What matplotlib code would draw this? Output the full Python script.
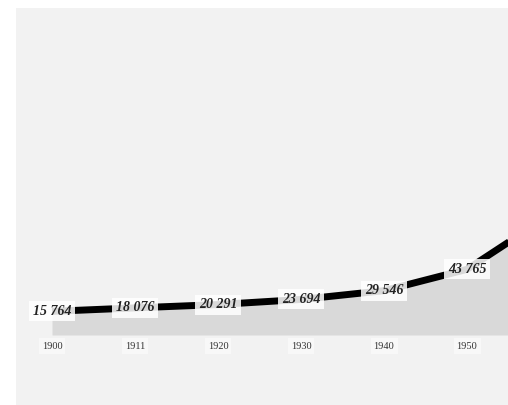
import numpy as np
import matplotlib.pyplot as plt

years = ['1900', '1911', '1920', '1930', '1940', '1950', '1960']
population = [15764, 18076, 20291, 23694, 29546, 43765, 80000]

x = np.arange(len(years))

fig = plt.figure(figsize=(5.08, 4.05), dpi=100, facecolor='white')
ax = fig.add_axes([16 / 508, 0, 492 / 508, 397 / 405])
ax.set_facecolor('#f2f2f2')
for s in ax.spines.values():
    s.set_visible(False)
ax.set_xticks([])
ax.set_yticks([])

ax.fill_between(x, 0, population, color='#d9d9d9', lw=0, zorder=1)
ax.plot(x, population, color='black', lw=5, solid_capstyle='butt', zorder=2)

for xi, yr, v in zip(x, years, population):
    if xi > 5:
        continue
    ax.annotate(f'{v:,}'.replace(',', ' '), (xi, v), ha='center', va='center',
                family='Liberation Serif', weight='bold', style='italic',
                fontsize=10, color='#222222', zorder=3,
                bbox=dict(boxstyle='square,pad=0.25', fc='white', ec='none', alpha=0.85))
    ax.annotate(yr, (xi, 0), xytext=(0, -8), textcoords='offset points',
                ha='center', va='center', family='Liberation Serif',
                fontsize=7.5, color='#333333', zorder=3,
                bbox=dict(boxstyle='square,pad=0.3', fc='white', ec='none', alpha=0.5))

ax.set_xlim(-0.434, 5.494)
ax.set_ylim(-46667, 218000)

fig.savefig('out.png', dpi=100, facecolor='white')
